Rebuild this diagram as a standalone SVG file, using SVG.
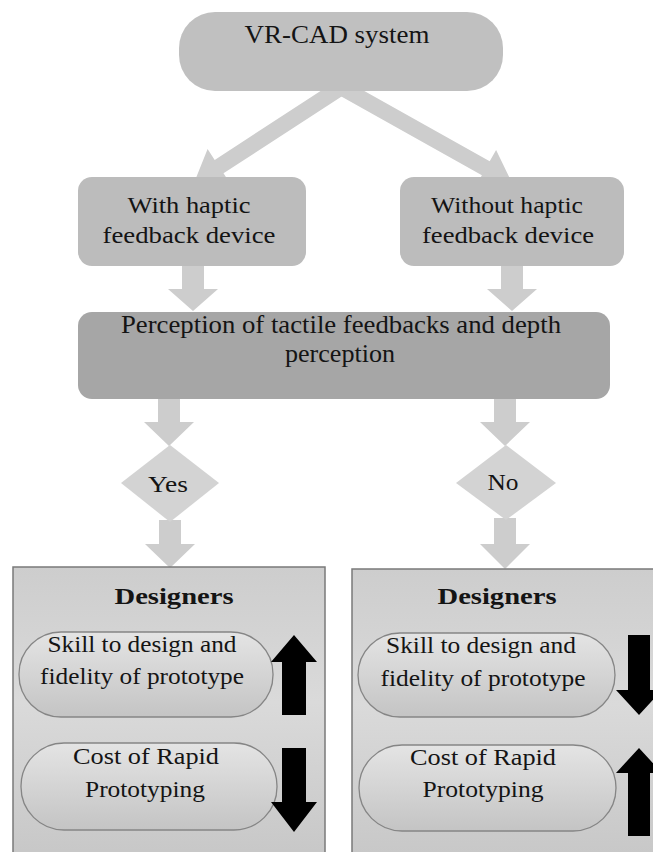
<svg xmlns="http://www.w3.org/2000/svg" width="653" height="852" viewBox="0 0 653 852" font-family="'Liberation Serif', 'Times New Roman', Tinos, serif">
<defs>
<linearGradient id="boxGrad" x1="0" y1="0" x2="0" y2="1">
<stop offset="0" stop-color="#cdcdcd"/>
<stop offset="0.45" stop-color="#dadada"/>
<stop offset="1" stop-color="#c6c6c6"/>
</linearGradient>
<linearGradient id="pillGrad" x1="0" y1="0" x2="0" y2="1">
<stop offset="0" stop-color="#e4e4e4"/>
<stop offset="1" stop-color="#c4c4c4"/>
</linearGradient>
<style>
text{font-family:'Liberation Serif','Times New Roman',Tinos,serif;fill:#141414;text-anchor:middle}
.t24{font-size:24px}
.t25{font-size:25px}
.b{font-weight:bold}
.conn{fill:#cdcdcd}
.blk{fill:#000}
.pill{fill:url(#pillGrad);stroke:#858585;stroke-width:1.3}
.panel{fill:url(#boxGrad);stroke:#7a7a7a;stroke-width:1.5}
</style>
</defs>
<rect x="0" y="0" width="653" height="852" fill="#ffffff"/>

<g id="connectors">
<polygon class="conn" points="338.6,79.3 214.7,159.9 207.6,149 194,183 230.6,184.2 223.5,173.3 347.4,92.7"/>
<polygon class="conn" points="342.9,79 489.7,161.3 496.1,150 512,183 475.5,186.6 481.9,175.3 335.1,93"/>
<polygon class="conn" points="182,264 204,264 204,289 218,289 193,311 168,289 182,289"/>
<polygon class="conn" points="501,264 523,264 523,289 537,289 512,311 487,289 501,289"/>
<polygon class="conn" points="158,397 180,397 180,422 194,422 169,446 144,422 158,422"/>
<polygon class="conn" points="494,397 516,397 516,422 530,422 505,446 480,422 494,422"/>
<polygon class="conn" points="159,520 181,520 181,544 195,544 170,568 145,544 159,544"/>
<polygon class="conn" points="494,518 516,518 516,544 530,544 505,569 480,544 494,544"/>
</g>

<g id="vrcad">
<rect x="179" y="12" width="324" height="79" rx="36" fill="#c0c0c0"/>
<text class="t25" x="337" y="43" textLength="185" lengthAdjust="spacingAndGlyphs">VR-CAD system</text>
</g>

<g id="with-haptic">
<rect x="78" y="177" width="228" height="89" rx="14" fill="#bcbcbc"/>
<text class="t24" x="189" y="213" textLength="123" lengthAdjust="spacingAndGlyphs">With haptic</text>
<text class="t24" x="189" y="243" textLength="173" lengthAdjust="spacingAndGlyphs">feedback device</text>
</g>

<g id="without-haptic">
<rect x="400" y="177" width="224" height="89" rx="14" fill="#bcbcbc"/>
<text class="t24" x="507" y="213" textLength="152" lengthAdjust="spacingAndGlyphs">Without haptic</text>
<text class="t24" x="508" y="243" textLength="172" lengthAdjust="spacingAndGlyphs">feedback device</text>
</g>

<g id="perception">
<rect x="78" y="312" width="532" height="87" rx="14" fill="#a6a6a6"/>
<text class="t25" x="341" y="333" textLength="440" lengthAdjust="spacingAndGlyphs">Perception of tactile feedbacks and depth</text>
<text class="t25" x="340" y="362" textLength="110" lengthAdjust="spacingAndGlyphs">perception</text>
</g>

<g id="yes">
<polygon points="170,445 219,483 170,522 121,483" fill="#d3d3d3"/>
<text class="t24" x="168" y="492" textLength="40" lengthAdjust="spacingAndGlyphs">Yes</text>
</g>

<g id="no">
<polygon points="506,445 556,483 506,520 456,483" fill="#d3d3d3"/>
<text class="t24" x="503" y="490" textLength="31" lengthAdjust="spacingAndGlyphs">No</text>
</g>

<g id="designers-yes">
<rect class="panel" x="13" y="567" width="312" height="300"/>
<text class="t24 b" x="174" y="604" textLength="119" lengthAdjust="spacingAndGlyphs">Designers</text>
<rect class="pill" x="19" y="632" width="254" height="85" rx="42"/>
<text class="t24" x="142" y="652" textLength="189" lengthAdjust="spacingAndGlyphs">Skill to design and</text>
<text class="t24" x="142" y="684" textLength="204" lengthAdjust="spacingAndGlyphs">fidelity of prototype</text>
<rect class="pill" x="21" y="743" width="256" height="87" rx="43"/>
<text class="t24" x="146" y="764" textLength="146" lengthAdjust="spacingAndGlyphs">Cost of Rapid</text>
<text class="t24" x="145" y="797" textLength="120" lengthAdjust="spacingAndGlyphs">Prototyping</text>
<polygon class="blk" points="282,715 306,715 306,662 317,662 294,635 271,662 282,662"/>
<polygon class="blk" points="282,748 306,748 306,802 317,802 294,832 271,802 282,802"/>
</g>

<g id="designers-no">
<rect class="panel" x="352" y="569" width="320" height="300"/>
<text class="t24 b" x="497" y="604" textLength="119" lengthAdjust="spacingAndGlyphs">Designers</text>
<rect class="pill" x="358" y="633" width="257" height="84" rx="42"/>
<text class="t24" x="481" y="653" textLength="190" lengthAdjust="spacingAndGlyphs">Skill to design and</text>
<text class="t24" x="483" y="686" textLength="205" lengthAdjust="spacingAndGlyphs">fidelity of prototype</text>
<rect class="pill" x="359" y="745" width="257" height="86" rx="43"/>
<text class="t24" x="483" y="765" textLength="146" lengthAdjust="spacingAndGlyphs">Cost of Rapid</text>
<text class="t24" x="483" y="797" textLength="121" lengthAdjust="spacingAndGlyphs">Prototyping</text>
<polygon class="blk" points="628,635 650,635 650,690 662,690 639,715 616,690 628,690"/>
<polygon class="blk" points="628,836 650,836 650,773 662,773 639,748 616,773 628,773"/>
</g>
</svg>
